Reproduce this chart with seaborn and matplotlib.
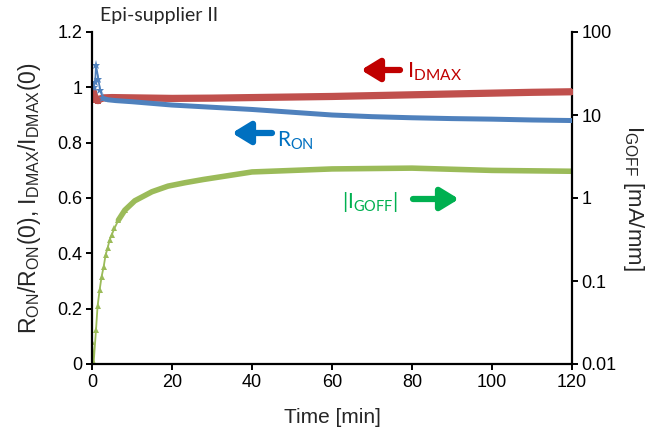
import numpy as np
import pandas as pd
import matplotlib
matplotlib.use("Agg")
import matplotlib.pyplot as plt
import seaborn as sns

# ---- data ----
t_idmax = [0, 0.5, 1.0, 1.5, 2, 3, 5, 10, 20, 30, 40, 50, 60, 70, 80, 90, 100, 110, 120]
idmax = [1.0, 0.975, 0.955, 0.952, 0.958, 0.962, 0.963, 0.962, 0.960, 0.961, 0.963, 0.965,
         0.967, 0.970, 0.973, 0.976, 0.979, 0.982, 0.984]

t_ron = [0, 0.4, 0.8, 1.0, 1.6, 2.0, 2.8, 4, 6, 10, 15, 20, 30, 40, 50, 60, 70, 80, 90, 100, 110, 120]
ron = [1.0, 1.0, 1.02, 1.08, 1.03, 0.99, 0.96, 0.955, 0.952, 0.948, 0.942, 0.936, 0.928, 0.92,
       0.91, 0.90, 0.894, 0.89, 0.887, 0.885, 0.882, 0.88]

t_igoff = [0, 0.4, 1.0, 1.4, 1.9, 2.4, 2.9, 3.4, 3.9, 4.4, 4.9, 5.6, 6.6, 8.2, 10.7, 15, 19,
           23.3, 27.8, 40, 60, 80, 100, 120]
igoff = [0.0186, 0.0102, 0.0257, 0.0501, 0.0776, 0.113, 0.147, 0.206, 0.249, 0.311, 0.357,
         0.43, 0.541, 0.713, 0.926, 1.19, 1.39, 1.53, 1.67, 2.06, 2.24, 2.29, 2.15, 2.10]

left_ticks = [0, 0.2, 0.4, 0.6, 0.8, 1.0, 1.2]
left_ticklabels = ["0", "0.2", "0.4", "0.6", "0.8", "1", "1.2"]
right_ticks = [0.01, 0.1, 1, 10, 100]
right_ticklabels = ["0.01", "0.1", "1", "10", "100"]
x_ticks = [0, 20, 40, 60, 80, 100, 120]

df_i = pd.DataFrame({"t": t_idmax, "v": idmax})
df_r = pd.DataFrame({"t": t_ron, "v": ron})
df_g = pd.DataFrame({"t": t_igoff, "v": igoff})

sns.set_theme(style="ticks")
plt.rcParams["font.family"] = ["Liberation Sans", "DejaVu Sans"]
plt.rcParams["mathtext.fontset"] = "custom"
plt.rcParams["mathtext.rm"] = "Liberation Sans"
plt.rcParams["mathtext.it"] = "Liberation Sans"
plt.rcParams["mathtext.sf"] = "Lato"

RED_L, BLUE_L, GREEN_L = "#C0504D", "#4F81BD", "#9BBB59"
RED_T, BLUE_T, GREEN_T = "#C00000", "#0070C0", "#00B050"

fig = plt.figure(figsize=(6.61, 4.30), dpi=100)
ax = fig.add_axes([92 / 661, 1 - 364 / 430, 480 / 661, 332 / 430])
ax2 = ax.twinx()

# right axis (log) series
g_early = [i for i, t in enumerate(t_igoff) if t <= 8.2]
sns.lineplot(data=df_g, x="t", y="v", ax=ax2, color=GREEN_L, lw=1.3, marker="^",
             markersize=5, markeredgewidth=0, markevery=g_early, sort=False)
sns.lineplot(data=df_g[df_g.t >= 6.6], x="t", y="v", ax=ax2, color=GREEN_L, lw=4.0, sort=False)
ax2.set_yscale("log")
ax2.set_ylim(0.01, 100)

# left axis series
sns.lineplot(data=df_i, x="t", y="v", ax=ax, color=RED_L, lw=5.2, marker="s",
             markersize=4, markeredgewidth=0, sort=False)
r_early = [i for i, t in enumerate(t_ron) if t <= 2.8]
sns.lineplot(data=df_r, x="t", y="v", ax=ax, color=BLUE_L, lw=1.3, marker="*",
             markersize=6.5, markeredgewidth=0, markevery=r_early, sort=False)
sns.lineplot(data=df_r[df_r.t >= 2.8], x="t", y="v", ax=ax, color=BLUE_L, lw=3.6, sort=False)

ax.set_zorder(ax2.get_zorder() + 1)
ax.patch.set_visible(False)

ax.set_xlim(0, 120)
ax.set_ylim(0, 1.2)
ax.set_xticks(x_ticks)
ax.set_xticklabels([str(v) for v in x_ticks])
ax.set_yticks(left_ticks)
ax.set_yticklabels(left_ticklabels)
ax2.set_yticks(right_ticks)
ax2.set_yticklabels(right_ticklabels)
ax2.yaxis.set_minor_locator(matplotlib.ticker.NullLocator())

for a in (ax, ax2):
    a.spines["top"].set_visible(False)
    for s in a.spines.values():
        s.set_linewidth(1.6)
        s.set_color("black")
    a.tick_params(direction="out", length=4.5, width=1.4, labelsize=13, colors="black", pad=2.5)
ax.spines["right"].set_visible(False)
ax2.spines["left"].set_visible(False)
ax2.spines["bottom"].set_visible(False)

ax.set_xlabel("Time [min]", fontsize=15)
ax.xaxis.label.set_va("baseline")
ax.xaxis.set_label_coords(0.5, -(423 - 364) / 332)

ax.set_ylabel(r"R$_{\rm ON}$/R$_{\rm ON}$(0), I$_{\rm DMAX}$/I$_{\rm DMAX}$(0)", fontsize=16.5)
ax.yaxis.set_label_coords(-(92 - 43) / 480, 0.5)

ax2.set_ylabel(r"I$_{\rm GOFF}$ [mA/mm]", fontsize=16, rotation=270, va="bottom")
ax2.yaxis.set_label_coords((621 - 92) / 480, 0.5)


def d(px, py):
    return ((px - 92) / 4.0, (364 - py) * 1.2 / 332)


# annotations
fig.text(100 / 661, 1 - 21 / 430, "Epi-supplier II", fontfamily="Lato", fontsize=14, va="baseline")

arrow_kw = dict(arrowstyle="-|>,head_length=0.9,head_width=0.55", lw=4.5, shrinkA=0, shrinkB=0)
ax.annotate("", xy=d(361, 70), xytext=d(400, 70), arrowprops=dict(color=RED_T, **arrow_kw))
ax.annotate("", xy=d(232, 133), xytext=d(272, 133), arrowprops=dict(color=BLUE_T, **arrow_kw))
ax.annotate("", xy=d(459, 199), xytext=d(413, 199), arrowprops=dict(color=GREEN_T, **arrow_kw))

ax.text(*d(407, 78), r"$\mathsf{I_{DMAX}}$", color=RED_T, fontsize=16, va="baseline")
ax.text(*d(277, 147), r"$\mathsf{R_{ON}}$", color=BLUE_T, fontsize=15, va="baseline")
ax.text(*d(342, 208), r"$\mathsf{|I_{GOFF}|}$", color=GREEN_T, fontsize=15, va="baseline")

fig.savefig("out.png", dpi=100)
